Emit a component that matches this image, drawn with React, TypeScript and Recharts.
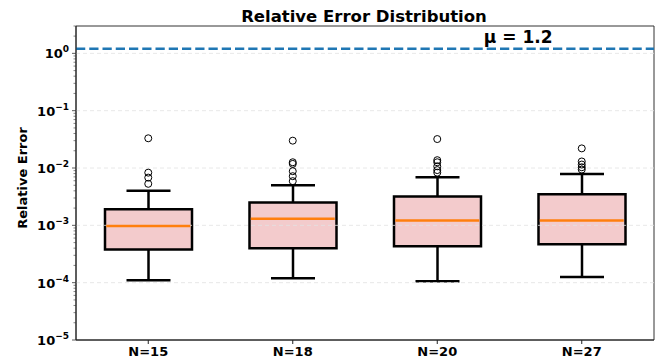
import { Bar, ComposedChart, Label, ReferenceArea, ReferenceLine, Scatter, XAxis, YAxis } from "recharts";

const categories = ["N=15", "N=18", "N=20", "N=27"];
const whiskerLow = [1.1e-4, 1.2e-4, 1.06e-4, 1.26e-4];
const q1 = [3.8e-4, 4.0e-4, 4.3e-4, 4.7e-4];
const median = [9.7e-4, 1.3e-3, 1.22e-3, 1.22e-3];
const q3 = [1.9e-3, 2.5e-3, 3.2e-3, 3.5e-3];
const whiskerHigh = [4.0e-3, 5.0e-3, 6.9e-3, 7.9e-3];
const outliers = [
  [3.3e-2, 8.3e-3, 6.8e-3, 5.3e-3],
  [3.0e-2, 1.26e-2, 1.18e-2, 8.8e-3, 7.2e-3, 5.9e-3],
  [3.2e-2, 1.37e-2, 1.26e-2, 1.07e-2, 9.2e-3, 8.3e-3],
  [2.2e-2, 1.3e-2, 1.15e-2, 1.03e-2, 9.4e-3],
];
const mu = 1.2;
const majorTicks = [1e-5, 1e-4, 1e-3, 1e-2, 1e-1, 1];
const yDomain = [1e-5, 3];

const FONT = "DejaVu Sans, sans-serif";
const W = 665;
const H = 362;

const maxOutliers = Math.max(...outliers.map((o) => o.length));
const outlierKeys = Array.from({ length: maxOutliers }, (_, i) => `o${i}`);

const data = categories.map((name, i) => {
  const row: any = {
    name,
    whisker: [whiskerLow[i], whiskerHigh[i]],
    box: [q1[i], q3[i]],
    median: median[i],
  };
  outliers[i].forEach((v, j) => {
    row[`o${j}`] = v;
  });
  return row;
});

const minorTicks: number[] = [];
majorTicks.forEach((m) => {
  for (let k = 2; k <= 9; k++) {
    const v = m * k;
    if (v <= yDomain[1]) minorTicks.push(v);
  }
});
const allTicks = [...majorTicks, ...minorTicks].sort((a, b) => a - b);

function LogTick(props: any) {
  const { x, y, payload } = props;
  const lv = Math.log10(payload.value);
  const exp = Math.round(lv);
  const isMajor = Math.abs(lv - exp) < 1e-6;
  if (!isMajor) {
    return <line x1={x} x2={x - 2.5} y1={y} y2={y} stroke="#333" strokeWidth={0.6} />;
  }
  return (
    <g>
      <line x1={x} x2={x - 4} y1={y} y2={y} stroke="#333" strokeWidth={0.8} />
      <text x={x - 7} y={y + 5} textAnchor="end" fontSize={13} fontWeight="bold" fill="#000" fontFamily={FONT}>
        <tspan>10</tspan>
        <tspan dy={-6} fontSize={9}>
          {exp === 0 ? "0" : "\u2212" + Math.abs(exp)}
        </tspan>
      </text>
    </g>
  );
}

function WhiskerShape(props: any) {
  const { x, y, width, height } = props;
  if (![x, y, width, height].every(Number.isFinite)) return null;
  const cx = x + width / 2;
  return (
    <g stroke="#000" strokeWidth={2.5}>
      <line x1={cx} x2={cx} y1={y} y2={y + height} />
      <line x1={cx - 22} x2={cx + 22} y1={y} y2={y} />
      <line x1={cx - 22} x2={cx + 22} y1={y + height} y2={y + height} />
    </g>
  );
}

function MedianShape(props: any) {
  const { cx, cy } = props;
  if (!Number.isFinite(cx) || !Number.isFinite(cy)) return null;
  return <line x1={cx - 42} x2={cx + 42} y1={cy} y2={cy} stroke="#ff7f0e" strokeWidth={2.5} />;
}

function OutlierShape(props: any) {
  const { cx, cy } = props;
  if (!Number.isFinite(cx) || !Number.isFinite(cy)) return null;
  return <circle cx={cx} cy={cy} r={3.5} fill="none" stroke="#000" strokeWidth={1} />;
}

function MuLabel(props: any) {
  const vb = props.viewBox || {};
  const x = (vb.x ?? 76) + (vb.width ?? 578) * 0.765;
  const y = (vb.y ?? 48) - 6;
  return (
    <text x={x} y={y} textAnchor="middle" fontSize={17} fontWeight="bold" fill="#000" fontFamily={FONT}>
      {"\u03bc = " + mu}
    </text>
  );
}

export default function App() {
  return (
    <div style={{ position: "absolute", left: 0, top: 0, width: W, height: H, background: "#fff" }}>
      <ComposedChart
        width={W}
        height={H}
        data={data}
        margin={{ top: 26, right: 11, bottom: 0, left: 0 }}
        barGap={-87}
      >
        <XAxis
          dataKey="name"
          type="category"
          height={22}
          tickSize={4}
          tickMargin={3}
          axisLine={{ stroke: "#222", strokeWidth: 1 }}
          tickLine={{ stroke: "#222" }}
          tick={{ fontSize: 13, fontWeight: "bold", fill: "#000", fontFamily: FONT }}
        />
        <YAxis
          type="number"
          scale="log"
          domain={yDomain}
          allowDataOverflow
          ticks={allTicks}
          interval={0}
          width={76}
          tickSize={0}
          tickMargin={0}
          tickLine={false}
          axisLine={{ stroke: "#222", strokeWidth: 1 }}
          tick={<LogTick />}
        />
        {majorTicks.slice(1).map((t) => (
          <ReferenceLine key={t} y={t} stroke="#e2e2e2" strokeWidth={0.8} strokeDasharray="4 3" />
        ))}
        <Bar dataKey="whisker" barSize={87} shape={<WhiskerShape />} isAnimationActive={false} />
        <Bar dataKey="box" barSize={87} fill="#f3cbcc" stroke="#000" strokeWidth={2.5} isAnimationActive={false} />
        <Scatter dataKey="median" shape={<MedianShape />} isAnimationActive={false} />
        {outlierKeys.map((k) => (
          <Scatter key={k} dataKey={k} shape={<OutlierShape />} isAnimationActive={false} />
        ))}
        <ReferenceLine y={mu} stroke="#1f77b4" strokeWidth={2.5} strokeDasharray="9.25 4">
          <Label content={MuLabel} />
        </ReferenceLine>
        <ReferenceArea y1={yDomain[0]} y2={yDomain[1]} fill="none" stroke="#333" strokeWidth={1} />
      </ComposedChart>
      <svg width={W} height={H} style={{ position: "absolute", left: 0, top: 0, pointerEvents: "none" }}>
        <text x={364} y={21.5} textAnchor="middle" fontSize={16.5} fontWeight="bold" fill="#000" fontFamily={FONT}>
          Relative Error Distribution
        </text>
        <text
          x={0}
          y={0}
          transform="translate(26.5, 178) rotate(-90)"
          textAnchor="middle"
          fontSize={13}
          fontWeight="bold"
          fill="#000"
          fontFamily={FONT}
        >
          Relative Error
        </text>
      </svg>
    </div>
  );
}
